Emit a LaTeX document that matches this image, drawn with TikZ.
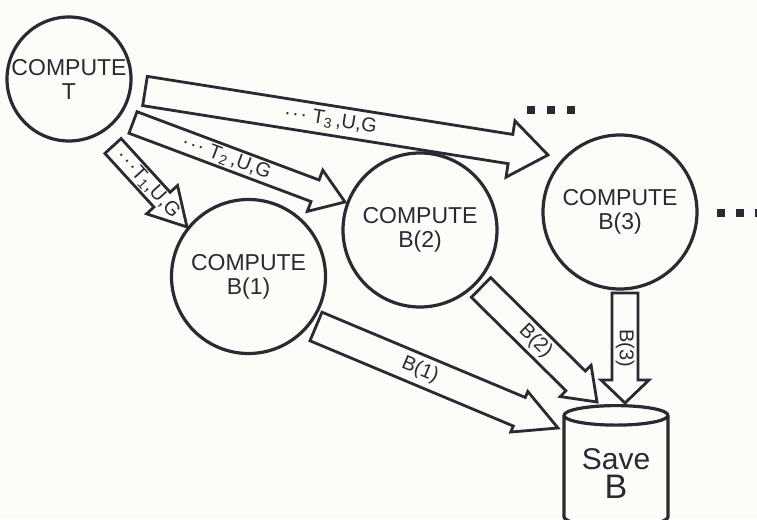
\documentclass[tikz,border=0pt]{standalone}
\usepackage{fontspec}
\setmainfont{Liberation Sans}
\usetikzlibrary{calc,shapes.geometric}
\definecolor{ink}{HTML}{2A2A33}
\definecolor{paper}{HTML}{FCFCF8}
\tikzset{
  stepcircle/.style={draw=ink, circle, line width=3.2pt, inner sep=0pt,
    font=\fontsize{23}{24}\selectfont, text=ink, align=center},
  storecyl/.style={draw=ink, cylinder, shape border rotate=90, aspect=0.26,
    line width=3.2pt, minimum width=104pt, minimum height=121pt,
    font=\fontsize{30}{29}\selectfont, text=ink, align=center},
  blockarrow/.style={draw=ink, line width=2.8pt, fill=paper, line join=miter},
  arrowlabel/.style={font=\fontsize{20}{20}\selectfont, text=ink, inner sep=0pt},
  moredots/.style={fill=ink, minimum size=8pt, inner sep=0pt},
}
\newcommand{\dotsin}{\textperiodcentered\kern1.5pt\textperiodcentered\kern1.5pt\textperiodcentered}
% block arrow: [label pos] {from} {to} {half width} {head half width} {head length} {label}
\newcommand{\bigarrow}[7][0.45]{%
  \coordinate (ba-s) at #2;
  \coordinate (ba-e) at #3;
  \coordinate (ba-c) at ($(ba-e)!#6!(ba-s)$);
  \draw[blockarrow] ($(ba-s)!#4!90:(ba-e)$) -- ($(ba-c)!#4!-90:(ba-s)$)
    -- ($(ba-c)!#5!-90:(ba-s)$) -- (ba-e) -- ($(ba-c)!#5!90:(ba-s)$)
    -- ($(ba-c)!#4!90:(ba-s)$) -- ($(ba-s)!#4!-90:(ba-e)$) -- cycle;
  \path (ba-s) -- (ba-e) node[pos=#1, sloped, arrowlabel] {#7};
}

\begin{document}
\begin{tikzpicture}[x=1pt, y=1pt]
\fill[paper] (0,0) rectangle (757,519);
\useasboundingbox (0,0) rectangle (757,519);

% the steps
\node[stepcircle, minimum size=124pt] (T) at (69,440) {COMPUTE\\T};
\node[stepcircle, minimum size=154pt] (B1) at (248.5,242.5) {COMPUTE\\B(1)};
\node[stepcircle, minimum size=154pt] (B2) at (420,289) {COMPUTE\\B(2)};
\node[stepcircle, minimum size=154pt] (B3) at (620,307) {COMPUTE\\B(3)};
\node[storecyl] (Save) at (616,45.5) {Save\\{\fontsize{34}{29}\selectfont B}};

% more of the same
\foreach \x [count=\i] in {531,551,571}
  \node[moredots] (dotA\i) at (\x,408.5) {};
\foreach \x [count=\i] in {721,740,759}
  \node[moredots] (dotB\i) at (\x,305.5) {};

% T goes out to every B
\bigarrow[0.46]{($(T)+(76,-12)$)}{($(B3)+(-72,57)$)}{14.8pt}{28.5pt}{38pt}{\dotsin\ T\textsubscript{3}\,,U,G}
\bigarrow[0.44]{($(T)+(64,-43.5)$)}{($(B2)+(-75,28)$)}{11.5pt}{22pt}{32pt}{\dotsin\ T\textsubscript{2}\,,U,G}
\bigarrow[0.47]{($(T)+(44,-67)$)}{($(B1)+(-61.5,49.5)$)}{11pt}{21pt}{37pt}{\dotsin T\textsubscript{1},U,G}

% every B goes to the store
\bigarrow[0.43]{($(B1)+(67.5,-50)$)}{($(Save)+(-58,45.5)$)}{15.5pt}{22pt}{42pt}{B(1)}
\bigarrow[0.47]{($(B2)+(61,-57.5)$)}{($(Save)+(-19,71.5)$)}{13.8pt}{22pt}{30pt}{B(2)}
\bigarrow[0.5]{($(B3)+(5,-81)$)}{($(Save)+(9,70.5)$)}{13pt}{24pt}{23pt}{B(3)}

\end{tikzpicture}
\end{document}
